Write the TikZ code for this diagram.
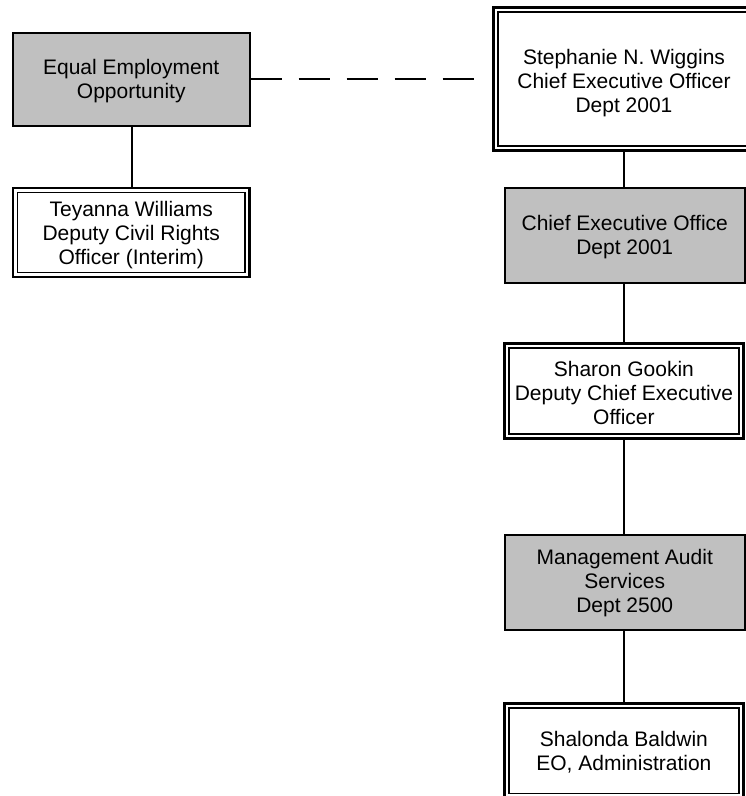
\documentclass[tikz,border=0pt]{standalone}
\usepackage{fontspec}
\setmainfont{Liberation Sans}
\definecolor{boxgray}{RGB}{192,192,192}
\tikzset{
  orgbox/.style={draw=black, line width=2pt, inner sep=0pt},
  graybox/.style={orgbox, fill=boxgray},
  dblbox/.style={orgbox, fill=white, line width=2.6pt,
    path picture={\draw[line width=1.5pt]
      ([shift={(4.5,4.5)}]path picture bounding box.north west) rectangle
      ([shift={(-4.5,-4.5)}]path picture bounding box.south east);}},
  boxtext/.style={inner sep=0pt, align=center,
    font=\fontsize{21}{24}\selectfont, text=black},
  conn/.style={draw=black, line width=2pt},
  dashconn/.style={conn, dash pattern=on 31pt off 17pt}
}
\begin{document}
\begin{tikzpicture}[x=1pt,y=-1pt]
\useasboundingbox (0,0) rectangle (746,796);
\clip (0,0) rectangle (746,796);
\fill[white] (0,0) rectangle (746,796);
% left column
\node[graybox, minimum width=236.5pt, minimum height=93pt] (eeo) at (131.25,79.5) {};
\node[boxtext] (eeo-t) at ([yshift=-1.5pt]eeo.center) {Equal Employment\\Opportunity};
\node[dblbox, minimum width=236.5pt, minimum height=89pt] (teyanna) at (131.25,232.3) {};
\node[boxtext] (teyanna-t) at ([yshift=-2.5pt]teyanna.center)
  {Teyanna Williams\\Deputy Civil Rights\\Officer (Interim)};
% right column
\node[dblbox, minimum width=261pt, minimum height=143pt] (ceo) at (624,79) {};
\node[boxtext] (ceo-t) at ([yshift=-4pt]ceo.center)
  {Stephanie N. Wiggins\\Chief Executive Officer\\Dept 2001};
\node[graybox, minimum width=240.5pt, minimum height=94.4pt] (ceoff) at (624.75,235.5) {};
\node[boxtext] (ceoff-t) at ([yshift=-1.5pt]ceoff.center)
  {Chief Executive Office\\Dept 2001};
\node[dblbox, minimum width=238.8pt, minimum height=94.6pt] (sharon) at (623.9,391) {};
\node[boxtext] (sharon-t) at ([yshift=-1.5pt]sharon.center)
  {Sharon Gookin\\Deputy Chief Executive\\Officer};
\node[graybox, minimum width=240.5pt, minimum height=94.4pt] (mas) at (624.75,582.5) {};
\node[boxtext] (mas-t) at ([yshift=-1pt]mas.center)
  {Management Audit\\Services\\Dept 2500};
\node[dblbox, minimum width=238.8pt, minimum height=94.6pt] (shalonda) at (623.9,750.6) {};
\node[boxtext] (shalonda-t) at ([yshift=-1.5pt]shalonda.center)
  {Shalonda Baldwin\\EO, Administration};
% connectors
\draw[conn] (eeo.south -| 132,0) -- (teyanna.north -| 132,0);
\draw[conn] (ceo.south -| 624,0) -- (ceoff.north -| 624,0);
\draw[conn] (ceoff.south -| 624,0) -- (sharon.north -| 624,0);
\draw[conn] (sharon.south -| 624,0) -- (mas.north -| 624,0);
\draw[conn] (mas.south -| 624,0) -- (shalonda.north -| 624,0);
\coordinate (dashend) at (488,79);
\draw[dashconn] (eeo.east |- dashend) -- (dashend);
\end{tikzpicture}
\end{document}
